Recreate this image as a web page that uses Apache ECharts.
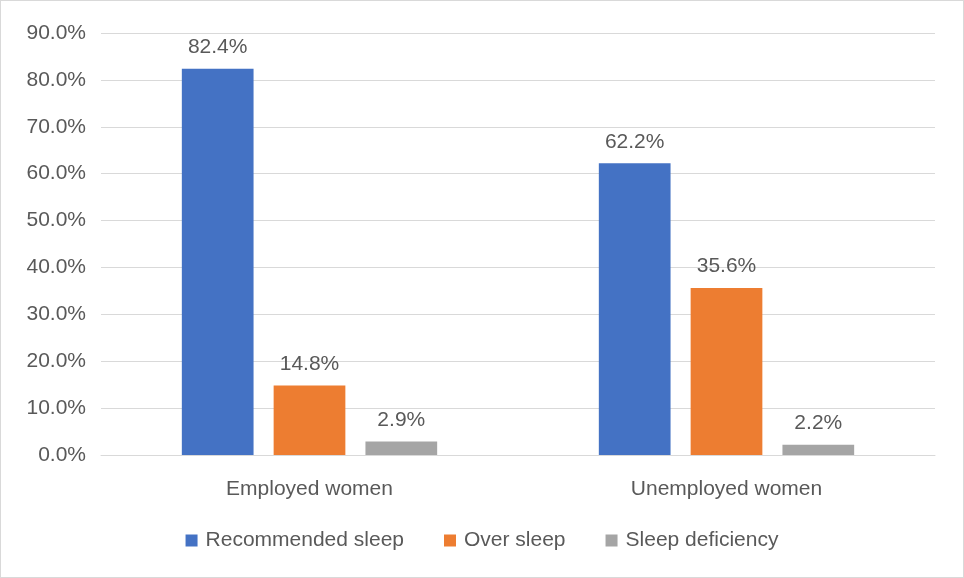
<!DOCTYPE html>
<html>
<head>
<meta charset="utf-8">
<script src="https://cdn.jsdelivr.net/npm/echarts@6/dist/echarts.min.js"></script>
<style>
  html, body { margin: 0; padding: 0; background: #fff; }
  #main { width: 962px; height: 576px; border: 1px solid #d9d9d9; }
</style>
</head>
<body>
<div id="main"></div>
<script>
var categories = ['Employed women', 'Unemployed women'];
var recommended = [82.4, 62.2];
var overSleep = [14.8, 35.6];
var deficiency = [2.9, 2.2];

var chart = echarts.init(document.getElementById('main'));

var txt = '#595959';
var font = 'Liberation Sans, Arial, sans-serif';
var fs = 21;

function bar(name, data, color) {
  return {
    name: name,
    type: 'bar',
    data: data,
    barWidth: '17.2%',
    barGap: '28%',
    barCategoryGap: '38.6%',
    itemStyle: { color: color },
    label: {
      show: true,
      position: 'top',
      distance: 11,
      color: txt,
      fontSize: fs,
      fontFamily: font,
      formatter: function (p) { return p.value.toFixed(1) + '%'; }
    }
  };
}

var option = {
  animation: false,
  textStyle: { fontFamily: font },
  grid: { left: 100, right: 28, top: 32, bottom: 122 },
  legend: {
    bottom: 21,
    left: 'center',
    itemWidth: 12,
    itemHeight: 12,
    itemGap: 40,
    icon: 'rect',
    textStyle: { color: txt, fontSize: fs, fontFamily: font, padding: [0, 0, 0, 3] },
    data: ['Recommended sleep', 'Over sleep', 'Sleep deficiency']
  },
  xAxis: {
    type: 'category',
    data: categories,
    axisTick: { show: false },
    axisLine: { lineStyle: { color: '#d9d9d9' } },
    axisLabel: { color: txt, fontSize: fs, margin: 24, fontFamily: font }
  },
  yAxis: {
    type: 'value',
    min: 0,
    max: 90,
    interval: 10,
    axisLine: { show: false },
    axisTick: { show: false },
    splitLine: { lineStyle: { color: '#d9d9d9' } },
    axisLabel: {
      color: txt,
      fontSize: fs,
      margin: 15,
      fontFamily: font,
      formatter: function (v) { return v.toFixed(1) + '%'; }
    }
  },
  series: [
    bar('Recommended sleep', recommended, '#4472C4'),
    bar('Over sleep', overSleep, '#ED7D31'),
    bar('Sleep deficiency', deficiency, '#A5A5A5')
  ]
};

chart.setOption(option);
</script>
</body>
</html>
